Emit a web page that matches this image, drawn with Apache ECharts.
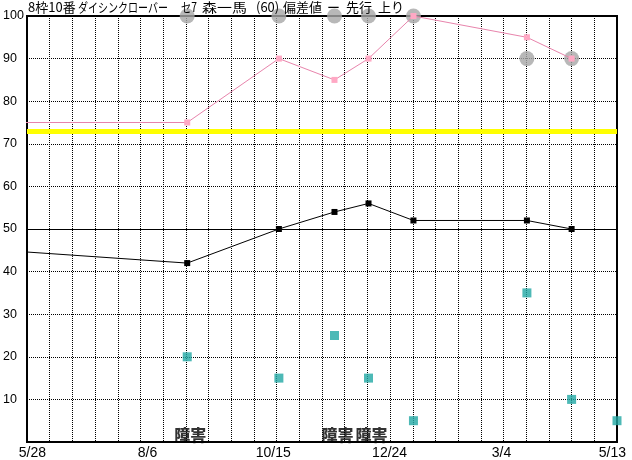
<!DOCTYPE html>
<html><head><meta charset="utf-8">
<script src="https://cdn.jsdelivr.net/npm/echarts@6/dist/echarts.min.js"></script>
<style>html,body{margin:0;padding:0;background:#fff}#c{width:632px;height:460px}</style>
</head><body><div id="c"></div>
<script>
// ---- data ----
const raceX = [7.06, 11.1, 13.55, 15.05, 17.03, 22.03, 24.0, 26.0]; // timeline position (grid units)
const prevX = -1.1;                 // previous race, just off the left edge
const deviation = [42, 50, 54, 56, 52, 52, 50];       // black line
const prevDeviation = 45;
const paceScore = [75, 90, 85, 90, 100, 95, 90];      // pink line
const prevPaceScore = 75;
const positionMark = [100, 100, 100, 100, 100, 90, 90]; // grey circles
const finishScore = [20, 15, 25, 15, 5, 35, 10, 5];   // teal squares
const obstacle = [1, 0, 1, 1, 0, 0, 0, 0];
const obstacleText = '障害';
const standardValue = 73;
const baseValue = 50;
const xTickPos = [0.24, 5.31, 10.85, 15.98, 20.91, 25.8];
const xTickLabels = ['5/28', '8/6', '10/15', '12/24', '3/4', '5/13'];
const titleParts = ['8枠10番', 'ダイシンクローバー', 'セ7', '森一馬', '(60)', '偏差値', 'ー', '先行', '上り'];

// ---- layout (not data) ----
const titleX = [28, 78, 181, 202, 256, 283, 327, 346, 378];
const titleW = [null, 90, 16, 50, null, null, null, null, null];
const titleFont = '13px "Noto Sans CJK JP"';

const cv = document.createElement('canvas').getContext('2d');
cv.font = titleFont;
const graphics = titleParts.map((t, i) => {
  let s = 1;
  if (titleW[i]) s = Math.min(1.15, titleW[i] / cv.measureText(t).width);
  return {type: 'text', x: titleX[i], y: 7.5, scaleX: s, z: 100,
    style: {text: t, font: titleFont, fill: '#000', verticalAlign: 'middle', align: 'left'}};
});

const xLabelMap = {};
xTickPos.forEach((p, i) => xLabelMap[p] = xTickLabels[i]);

const blackData = [{value: [prevX, prevDeviation], symbol: 'none'}]
  .concat(deviation.map((v, i) => [raceX[i], v]));
const pinkData = [{value: [prevX, prevPaceScore], symbol: 'none'}]
  .concat(paceScore.map((v, i) => [raceX[i], v]));
const greyData = positionMark.map((v, i) => [raceX[i], v]);
const tealData = finishScore.map((v, i) => [raceX[i], v]);
const obstacleData = raceX.filter((x, i) => obstacle[i]).map(x => [x, 0]);

const chart = echarts.init(document.getElementById('c'), null, {renderer: 'canvas'});
chart.setOption({
  animation: false,
  backgroundColor: '#fff',
  graphic: graphics,
  grid: {left: 25, right: 15, top: 16, bottom: 18, show: true, borderColor: '#000', borderWidth: 2, backgroundColor: 'transparent'},
  xAxis: [{
    type: 'value', min: 0, max: 26, interval: 1, position: 'bottom',
    axisLine: {show: false}, axisTick: {show: false}, axisLabel: {show: false},
    splitLine: {show: true, lineStyle: {color: '#000', type: 'dotted', width: 1}}
  }, {
    type: 'value', min: 0, max: 26, position: 'bottom',
    axisLine: {show: false}, axisTick: {show: false}, splitLine: {show: false},
    axisLabel: {show: true, customValues: xTickPos, margin: 4, color: '#000',
      fontSize: 14, fontFamily: 'Liberation Sans',
      formatter: v => xLabelMap[v] !== undefined ? xLabelMap[v] : ''}
  }],
  yAxis: {
    type: 'value', min: 0, max: 100, interval: 10,
    axisLine: {show: false}, axisTick: {show: false},
    axisLabel: {align: 'left', margin: 24, color: '#000', fontSize: 12.5, fontFamily: 'Liberation Sans',
      formatter: v => v === 0 ? '' : String(v)},
    splitLine: {show: true, lineStyle: {color: '#000', type: 'dotted', width: 1}}
  },
  series: [{
    type: 'line', data: [], z: 1, silent: true,
    markLine: {silent: true, symbol: ['none', 'none'], label: {show: false},
      emphasis: {disabled: true},
      data: [
        {yAxis: standardValue, lineStyle: {color: '#ffff00', width: 5, type: 'solid'}},
        {yAxis: baseValue, lineStyle: {color: '#000', width: 1, type: 'solid'}}
      ]}
  }, {
    type: 'scatter', data: greyData, symbol: 'circle', symbolSize: 15, z: 2, clip: false,
    itemStyle: {color: '#a6a6a6'}
  }, {
    type: 'line', data: blackData, symbol: 'rect', symbolSize: 6, z: 3, clip: false,
    itemStyle: {color: '#000'}, lineStyle: {color: '#000', width: 1}
  }, {
    type: 'line', data: pinkData, symbol: 'rect', symbolSize: 6, z: 4, clip: false,
    itemStyle: {color: '#ffa8c4'}, lineStyle: {color: '#e884ac', width: 1}
  }, {
    type: 'scatter', data: tealData, symbol: 'rect', symbolSize: 9, z: 5, clip: false,
    itemStyle: {color: '#20a8a4'}
  }, {
    type: 'scatter', data: obstacleData, symbol: 'rect', symbolSize: 1, z: 6, clip: false,
    itemStyle: {color: 'transparent'},
    label: {show: true, position: 'inside', offset: [3, -7], formatter: () => obstacleText,
      color: '#000', fontSize: 16, fontWeight: 900, fontFamily: 'Noto Sans CJK JP'}
  }]
});
</script></body></html>
